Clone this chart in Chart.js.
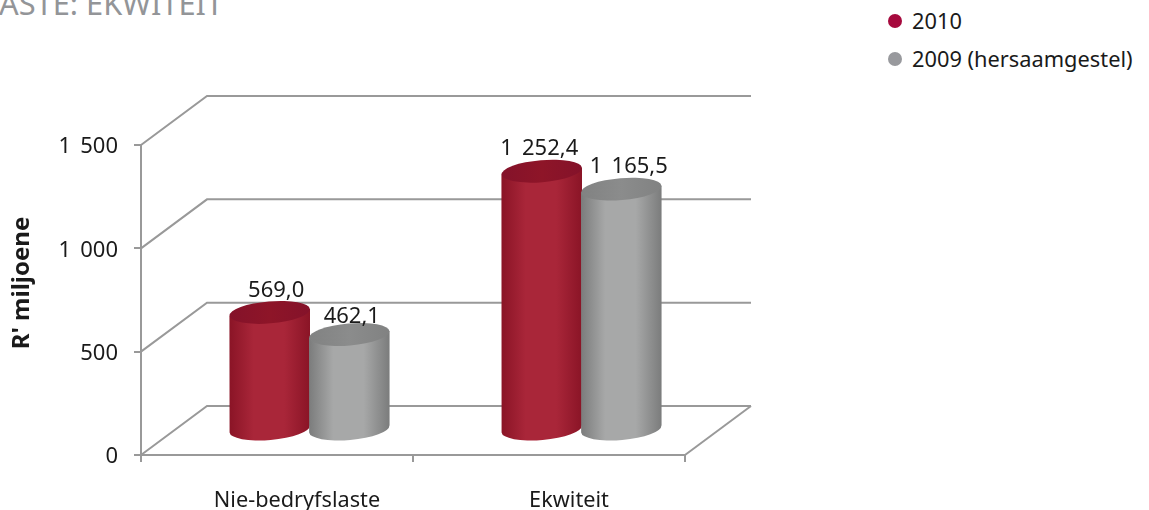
<!DOCTYPE html>
<html>
<head>
<meta charset="utf-8">
<script src="https://cdn.jsdelivr.net/npm/chart.js@4"></script>
<style>
  html, body { margin: 0; padding: 0; background: #fff; overflow: hidden; }
  #wrap { position: relative; width: 1149px; height: 510px; overflow: hidden; font-family: "Noto Sans", sans-serif; }
  #price-chart { position: absolute; left: 0; top: 0; }
  #title { position: absolute; left: -1px; top: -19px; font-size: 30.8px; line-height: 44px; color: #939598; white-space: nowrap; }
  .leg { position: absolute; left: 887px; height: 30px; line-height: 30px; font-size: 21.8px; color: #1a1a1a; white-space: nowrap; padding-left: 25px; }
  .leg i { position: absolute; left: 1px; top: 8px; width: 14px; height: 14px; border-radius: 50%; }
</style>
</head>
<body>
<div id="wrap">
  <div id="title">ASTE: EKWITEIT</div>
  <div class="leg" style="top:6px"><i style="background:#a6093d"></i>2010</div>
  <div class="leg" style="top:44px"><i style="background:#98999d"></i>2009 (hersaamgestel)</div>
  <canvas id="price-chart" width="1149" height="510"></canvas>
</div>
<script>
const categories = ['Nie-bedryfslaste', 'Ekwiteit'];
const values2010 = [569.0, 1252.4];
const values2009 = [462.1, 1165.5];
const yTicks = [0, 500, 1000, 1500];
const yTitle = "R' miljoene";

const FONT = '"Noto Sans", sans-serif';
const LINE = '#999999';
const DEPTH_X = 66, DEPTH_Y = 49;
// the thousands gap in the original is wider than a normal space
const THOUSANDS = '\u2005\u2006';

const cylColors = [
  { edge: '#8a1426', mid: '#a92639', top: '#8e1528', topEdge: '#84122a' },
  { edge: '#7b7c7c', mid: '#a7a8a8', top: '#8b8c8c', topEdge: '#818282' }
];
// data labels do not sit in the same place on every bar in the original
const labelShift = [[[7, -22], [3, -18]], [[-2, -22], [8, -22]]];

function groupNumber(v) {
  return String(v).replace(/\B(?=(\d{3})+(?!\d))/g, THOUSANDS);
}
function decimalLabel(v) {
  const parts = v.toFixed(1).split('.');
  return groupNumber(parts[0]) + ',' + parts[1];
}

const wallPlugin = {
  id: 'wall',
  beforeDatasetsDraw(chart) {
    const { ctx, scales: { x, y } } = chart;
    const a = chart.chartArea;
    ctx.save();
    ctx.strokeStyle = LINE;
    ctx.lineWidth = 2;
    y.ticks.forEach((t, i) => {
      const py = y.getPixelForTick(i);
      ctx.beginPath();
      ctx.moveTo(a.left, py);
      ctx.lineTo(a.left + DEPTH_X, py - DEPTH_Y);
      ctx.lineTo(a.right + DEPTH_X, py - DEPTH_Y);
      ctx.stroke();
    });
    ctx.beginPath();
    ctx.moveTo(a.right, a.bottom);
    ctx.lineTo(a.right + DEPTH_X, a.bottom - DEPTH_Y);
    ctx.stroke();
    ctx.restore();
  }
};

function drawCylinder(ctx, bar, c) {
  const cx = bar.x + 32.5, top = bar.y - 25, base = bar.base - 25;
  const rx = bar.width / 2 + 0.5, ry = 11, rot = -0.085;
  const dy = rx * Math.sin(rot);
  const g = ctx.createLinearGradient(cx - rx, 0, cx + rx, 0);
  g.addColorStop(0, c.edge);
  g.addColorStop(0.3, c.mid);
  g.addColorStop(0.68, c.mid);
  g.addColorStop(1, c.edge);
  ctx.fillStyle = g;
  ctx.beginPath();
  ctx.moveTo(cx - rx, top - dy);
  ctx.lineTo(cx + rx, top + dy);
  ctx.lineTo(cx + rx, base + dy);
  ctx.ellipse(cx, base, rx, ry, rot, 0, Math.PI);
  ctx.closePath();
  ctx.fill();
  const t = ctx.createLinearGradient(cx - rx, 0, cx + rx, 0);
  t.addColorStop(0, c.topEdge);
  t.addColorStop(0.5, c.top);
  t.addColorStop(1, c.topEdge);
  ctx.fillStyle = t;
  ctx.beginPath();
  ctx.ellipse(cx, top, rx, ry, rot, 0, Math.PI * 2);
  ctx.fill();
}

const cylinderPlugin = {
  id: 'cylinders',
  afterDatasetsDraw(chart) {
    const { ctx } = chart;
    ctx.save();
    categories.forEach((_, i) => {
      chart.data.datasets.forEach((ds, d) => {
        drawCylinder(ctx, chart.getDatasetMeta(d).data[i], cylColors[d]);
      });
    });
    ctx.fillStyle = '#1a1a1a';
    ctx.font = '22px ' + FONT;
    ctx.textAlign = 'center';
    ctx.textBaseline = 'middle';
    categories.forEach((_, i) => {
      chart.data.datasets.forEach((ds, d) => {
        const bar = chart.getDatasetMeta(d).data[i];
        const s = labelShift[i][d];
        ctx.fillText(decimalLabel(ds.data[i]), bar.x + 32 + s[0], bar.y - 25 + s[1]);
      });
    });
    // axis title sits above the middle of the axis, so it is placed by hand
    ctx.translate(22, 283);
    ctx.rotate(-Math.PI / 2);
    ctx.font = 'bold 24px ' + FONT;
    ctx.fillText(yTitle, 0, 0);
    ctx.restore();
  }
};

new Chart(document.getElementById('price-chart').getContext('2d'), {
  type: 'bar',
  data: {
    labels: categories,
    datasets: [
      { label: '2010', data: values2010, backgroundColor: 'transparent' },
      { label: '2009 (hersaamgestel)', data: values2009, backgroundColor: 'transparent' }
    ]
  },
  options: {
    responsive: false,
    animation: false,
    devicePixelRatio: 1,
    layout: { padding: { top: 145, right: 464, left: 0, bottom: 0 } },
    barPercentage: 1,
    categoryPercentage: 0.585,
    plugins: { legend: { display: false }, tooltip: { enabled: false } },
    scales: {
      x: {
        afterFit(scale) { scale.height = 55; },
        border: { color: LINE, width: 2 },
        grid: { drawOnChartArea: false, color: LINE, lineWidth: 2, tickLength: 7 },
        ticks: { color: '#1a1a1a', padding: 26, labelOffset: 20, font: { family: FONT, size: 21.7 } }
      },
      y: {
        min: 0,
        max: 1500,
        afterFit(scale) { scale.width = 141; },
        afterBuildTicks(scale) { scale.ticks = yTicks.map(v => ({ value: v })); },
        border: { color: LINE, width: 2 },
        grid: { drawOnChartArea: false, color: LINE, lineWidth: 2, tickLength: 7 },
        ticks: {
          color: '#1a1a1a',
          padding: 16,
          labelOffset: 2,
          font: { family: FONT, size: 22 },
          callback: v => groupNumber(v)
        }
      }
    }
  },
  plugins: [wallPlugin, cylinderPlugin]
});
</script>
</body>
</html>
